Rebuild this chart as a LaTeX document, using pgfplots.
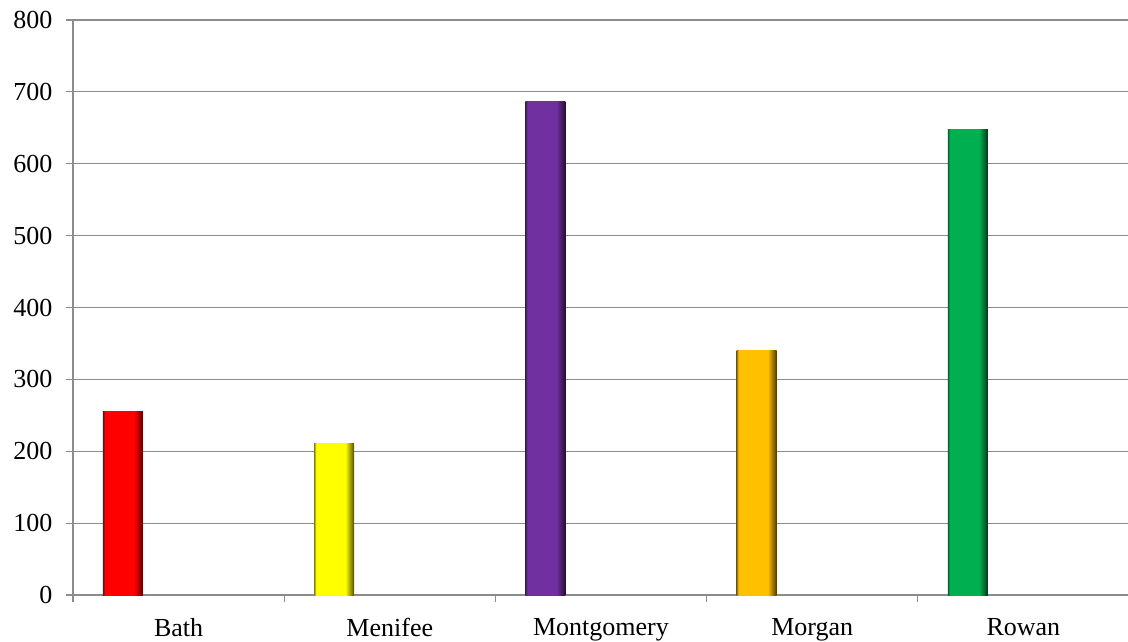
\documentclass[border=0pt]{standalone}
\usepackage{pgfplots}
\pgfplotsset{compat=1.18}
\usepackage{fontspec}
\setmainfont{Liberation Serif}

\definecolor{gridgray}{HTML}{8C8C8C}
\definecolor{cbath}{HTML}{FF0000}
\definecolor{cmenifee}{HTML}{FFFF00}
\definecolor{cmontgomery}{HTML}{7030A0}
\definecolor{cmorgan}{HTML}{FFC000}
\definecolor{crowan}{HTML}{00B050}

% bevel-like shading: darker left edge, flat body, dark right edge
\newcommand\barshade[2]{%
  \pgfdeclarehorizontalshading{#1}{100bp}{%
    color(0bp)=(#2!55!black); color(25bp)=(#2!55!black);
    color(27.5bp)=(#2); color(64bp)=(#2);
    color(75bp)=(#2!30!black); color(100bp)=(#2!30!black)}}
\barshade{shbath}{cbath}
\barshade{shmenifee}{cmenifee}
\barshade{shmontgomery}{cmontgomery}
\barshade{shmorgan}{cmorgan}
\barshade{shrowan}{crowan}

\begin{document}
\begin{tikzpicture}[x=1pt,y=1pt]
\path[use as bounding box] (-73,-46) rectangle (1055,595);
\begin{axis}[
    at={(0,0)}, anchor=south west,
    scale only axis,
    width=1056pt, height=575pt,
    xmin=-0.5, xmax=4.5,
    ymin=0, ymax=800,
    ytick={0,100,...,800},
    xtick={-0.5,0.5,1.5,2.5,3.5,4.5},
    x tick label as interval,
    xticklabels={Bath,Menifee,Montgomery,Morgan,Rowan},
    ymajorgrids,
    grid style={gridgray, line width=1.2pt},
    axis x line*=bottom,
    axis y line*=left,
    axis line style={gridgray, line width=1.2pt},
    tick align=outside,
    major tick length=7pt,
    tick style={gridgray, line width=1.2pt},
    tick label style={font=\fontsize{26}{26}\selectfont, black},
    /pgf/number format/assume math mode=true,
    yticklabel style={xshift=-10pt},
    xticklabel style={yshift=-13pt},
]
\addplot[ybar, bar width=40pt, bar shift=-55.6pt, draw=none, shading=shbath]
  coordinates {(0,256)};
\addplot[ybar, bar width=40pt, bar shift=-55.6pt, draw=none, shading=shmenifee]
  coordinates {(1,211)};
\addplot[ybar, bar width=40pt, bar shift=-55.6pt, draw=none, shading=shmontgomery]
  coordinates {(2,687)};
\addplot[ybar, bar width=40pt, bar shift=-55.6pt, draw=none, shading=shmorgan]
  coordinates {(3,340)};
\addplot[ybar, bar width=40pt, bar shift=-55.6pt, draw=none, shading=shrowan]
  coordinates {(4,647)};
\end{axis}
\end{tikzpicture}
\end{document}
